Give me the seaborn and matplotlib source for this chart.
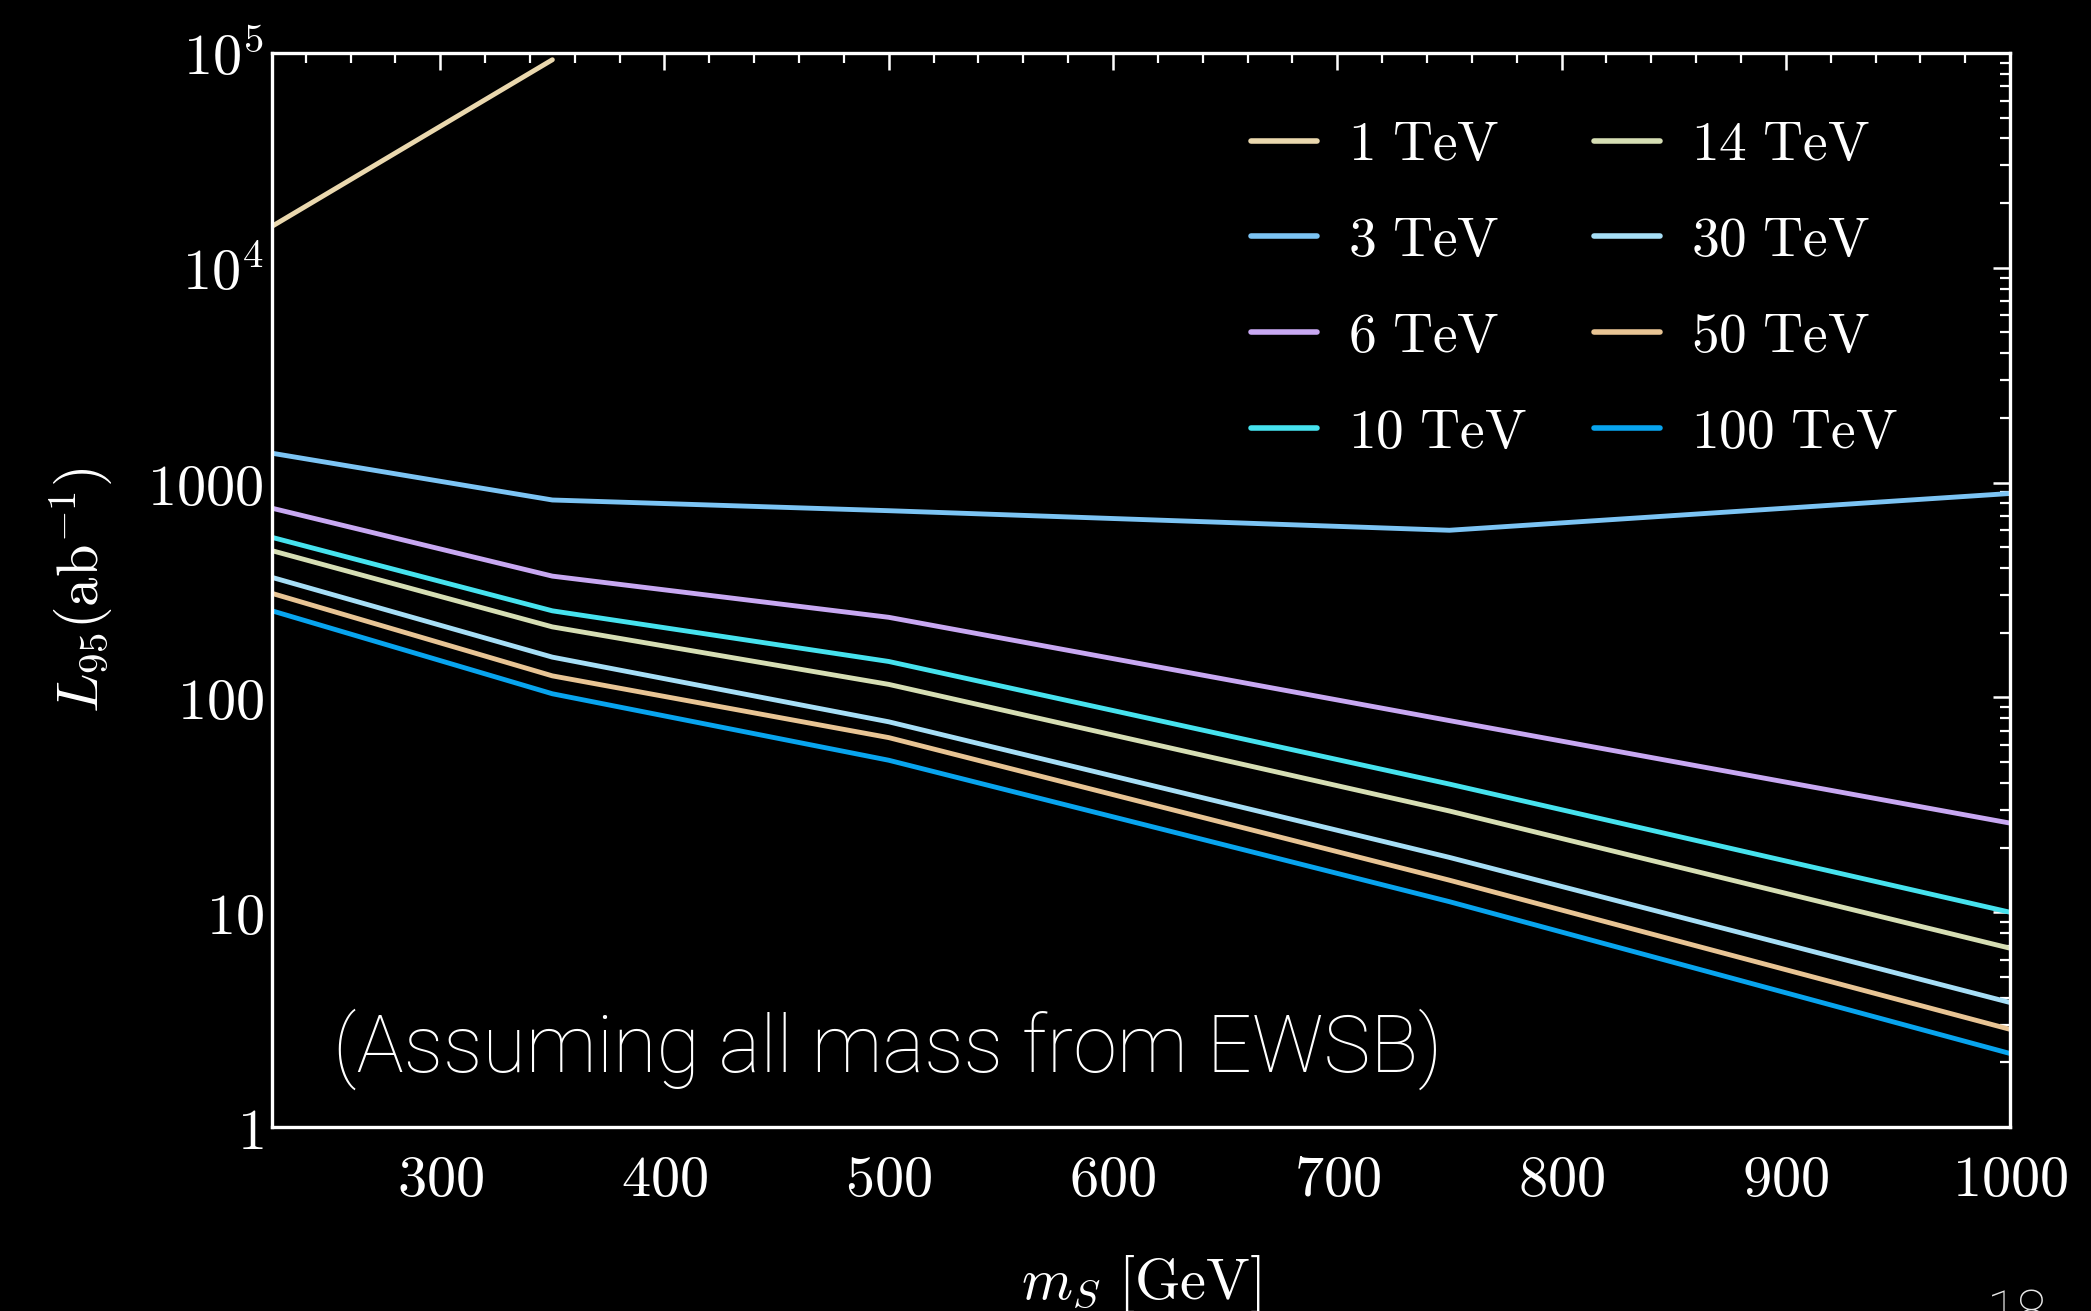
import numpy as np
import pandas as pd
import matplotlib
matplotlib.use("Agg")
import matplotlib.pyplot as plt
import matplotlib.ticker as mticker
import seaborn as sns

# ---------------- data ----------------
ms = [225, 350, 500, 750, 1000]           # m_S [GeV]
ms_1tev = [225, 350]
L_1tev = [15600, 93000]
L_3tev = [1370, 830, 740, 600, 890]
L_6tev = [760, 367, 236, 78, 26]
L_10tev = [556, 253, 147, 39.5, 10]
L_14tev = [482, 213, 115, 29.6, 6.8]
L_30tev = [362, 154, 77, 18, 3.8]
L_50tev = [305, 126, 65, 14.1, 2.85]
L_100tev = [253, 104, 51, 11.2, 2.2]

labels = ["1 TeV", "3 TeV", "6 TeV", "10 TeV", "14 TeV", "30 TeV", "50 TeV", "100 TeV"]
colors = ["#EAD8AE", "#7CC4F4", "#C8A8F2", "#46E2EE", "#D6DEB4", "#A6DEF6", "#E8C494", "#08A4EE"]

xticks = [300, 400, 500, 600, 700, 800, 900, 1000]
yticks = [1, 10, 100, 1000, 1e4, 1e5]
ytick_labels = [r"$\mathrm{1}$", r"$\mathrm{10}$", r"$\mathrm{100}$", r"$\mathrm{1000}$",
                r"$\mathrm{10}^{4}$", r"$\mathrm{10}^{5}$"]

# ---------------- style ----------------
sns.set_theme(style="dark")
plt.rcParams.update({
    "figure.facecolor": "black",
    "axes.facecolor": "black",
    "savefig.facecolor": "black",
    "axes.edgecolor": "white",
    "text.color": "white",
    "xtick.color": "white",
    "ytick.color": "white",
    "mathtext.fontset": "cm",
    "axes.grid": False,
})
plt.rcParams["font.family"] = ["DejaVu Serif"]

fig = plt.figure(figsize=(20.91, 13.11), dpi=100)
ax = fig.add_axes([0.1301, 0.1403, 0.8312, 0.8193])

series = [
    (ms_1tev, L_1tev),
    (ms, L_3tev),
    (ms, L_6tev),
    (ms, L_10tev),
    (ms, L_14tev),
    (ms, L_30tev),
    (ms, L_50tev),
    (ms, L_100tev),
]
for (xs, ys), lab, col in zip(series, labels, colors):
    sns.lineplot(x=xs, y=ys, ax=ax, color=col, linewidth=3.5,
                 label=r"$\mathrm{" + lab.replace(" ", r"\ ") + "}$")

ax.set_yscale("log")
ax.set_xlim(225, 1000)
ax.set_ylim(1, 1e5)

for s in ax.spines.values():
    s.set_color("white")
    s.set_linewidth(2.4)

ax.set_xticks(xticks)
ax.set_xticklabels([r"$\mathrm{%d}$" % t for t in xticks])
ax.xaxis.set_minor_locator(mticker.MultipleLocator(20))
ax.set_yticks(yticks)
ax.set_yticklabels(ytick_labels)
ax.yaxis.set_minor_locator(mticker.LogLocator(base=10, subs=np.arange(2, 10), numticks=20))
ax.yaxis.set_minor_formatter(mticker.NullFormatter())

ax.tick_params(which="both", direction="in", top=True, right=True, colors="white")
ax.tick_params(which="major", length=12, width=1.8, labelsize=42)
ax.tick_params(which="minor", length=7, width=1.6)
ax.tick_params(axis="x", which="major", pad=18)
ax.tick_params(axis="y", which="major", pad=6)

ax.set_xlabel(r"$m_S\ \mathrm{[GeV]}$", fontsize=42, color="white", labelpad=32)
ax.set_ylabel(r"$L_{95}(\mathrm{ab}^{-1})$", fontsize=42, color="white", labelpad=24)

leg = ax.legend(ncol=2, loc="upper left", bbox_to_anchor=(0.547, 0.966), frameon=False,
                fontsize=40, handlelength=1.2, handletextpad=0.55, columnspacing=1.2,
                labelspacing=0.74, borderpad=0.0)
for line in leg.get_lines():
    line.set_linewidth(4.0)
for t in leg.get_texts():
    t.set_color("white")

ax.text(0.0353, 0.052, "(Assuming all mass from EWSB)", transform=ax.transAxes,
        fontsize=57, color="white", family=["Roboto", "DejaVu Sans"], fontweight="light",
        va="baseline", ha="left")

fig.text(0.950, 0.0175, "18", fontsize=40, color="#E6E6E6",
         family=["Roboto", "DejaVu Sans"], fontweight="light", va="top", ha="left")

fig.savefig("out.png", dpi=100, facecolor="black")
